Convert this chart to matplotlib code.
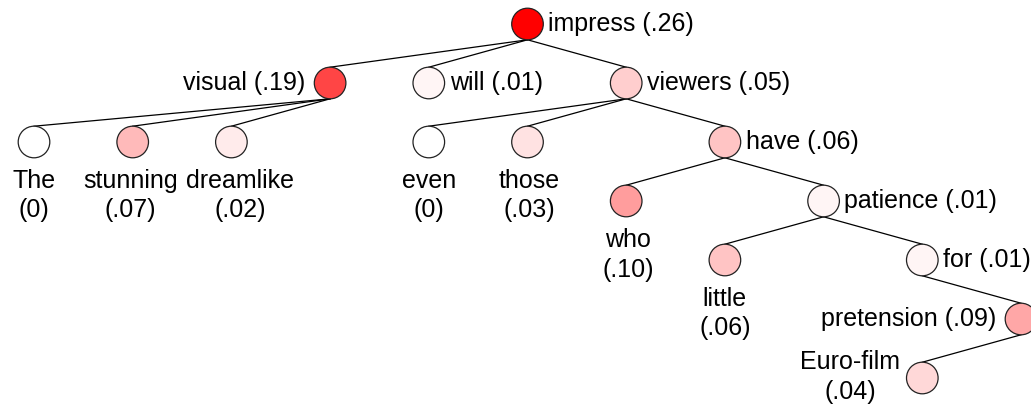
import matplotlib.pyplot as plt
from matplotlib.patches import Circle

# tree nodes
words = ["impress", "visual", "will", "viewers", "The", "stunning", "dreamlike",
         "even", "those", "have", "who", "patience", "little", "for",
         "pretension", "Euro-film"]
scores = [0.26, 0.19, 0.01, 0.05, 0.0, 0.07, 0.02,
          0.0, 0.03, 0.06, 0.10, 0.01, 0.06, 0.01,
          0.09, 0.04]
score_text = [".26", ".19", ".01", ".05", "0", ".07", ".02",
              "0", ".03", ".06", ".10", ".01", ".06", ".01",
              ".09", ".04"]
parent = [-1, 0, 0, 0, 1, 1, 1, 3, 3, 3, 9, 9, 11, 11, 13, 14]

# layout: grid column and depth of each node, where its label goes
col = [5, 3, 4, 6, 0, 1, 2, 4, 5, 7, 6, 8, 7, 9, 10, 9]
depth = [0, 1, 1, 1, 2, 2, 2, 2, 2, 2, 3, 3, 4, 4, 5, 6]
side = ["right", "left", "right", "right", "below", "below", "below",
        "below", "below", "right", "below", "right", "below", "right",
        "left", "upleft"]
nudge = [0, 0, 0, 0, 0, -2, 9, 0, 2, 0, 2, 0, 0, 0, 0, 0]

W, H = 1031, 409
fig = plt.figure(figsize=(W / 100, H / 100), dpi=100)
ax = fig.add_axes([0, 0, 1, 1])
ax.set_xlim(0, W)
ax.set_ylim(H, 0)
ax.axis("off")

r = 15.8
xs = [34 + c * 98.7 for c in col]
ys = [24 + d * 59 for d in depth]
vmax = max(scores)
font = dict(family=["Liberation Sans", "DejaVu Sans"], fontsize=18, color="black")

for i, p in enumerate(parent):
    if p >= 0:
        ax.plot([xs[p], xs[i]], [ys[p] + r, ys[i] - r], color="black", lw=0.9, zorder=1)

for i, w in enumerate(words):
    f = 1 - scores[i] / vmax
    ax.add_patch(Circle((xs[i], ys[i]), r, facecolor=(1, f, f), edgecolor="#222222",
                        lw=0.9, zorder=2))
    s = score_text[i]
    x = xs[i] + nudge[i]
    if side[i] == "right":
        ax.text(x + r + 5, ys[i], f"{w} ({s})", ha="left", va="center", **font)
    elif side[i] == "left":
        ax.text(x - r - 9, ys[i], f"{w} ({s})", ha="right", va="center", **font)
    elif side[i] == "below":
        ax.text(x, ys[i] + r + 11, f"{w}\n({s})", ha="center", va="top",
                multialignment="center", linespacing=1.3, **font)
    else:
        ax.text(x - 72, ys[i] - 1, f"{w}\n({s})", ha="center", va="center",
                multialignment="center", linespacing=1.3, **font)

fig.savefig("out.png", dpi=100)
